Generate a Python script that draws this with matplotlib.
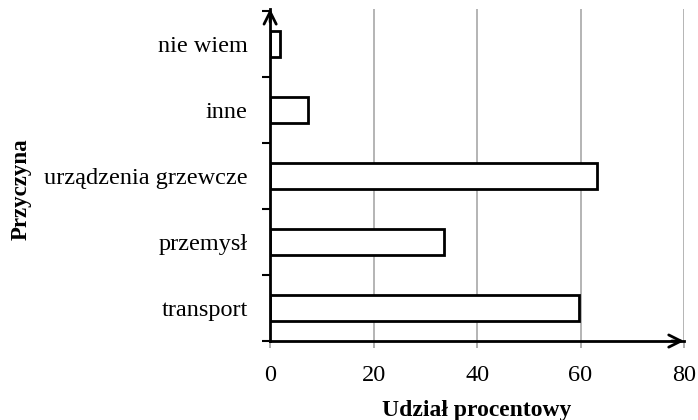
import matplotlib.pyplot as plt
import numpy as np

# dane
przyczyny = ['transport', 'przemysł', 'urządzenia grzewcze', 'inne', 'nie wiem']
udzial = [59.7, 33.7, 63.2, 7.3, 2.0]
x_ticks = [0, 20, 40, 60, 80]

plt.rcParams['font.family'] = ['Liberation Serif', 'DejaVu Serif']
plt.rcParams['font.size'] = 17.5

fig = plt.figure(figsize=(6.98, 4.2), dpi=100)
ax = fig.add_axes([0.387, 0.188, 0.593, 0.791])

y = np.arange(len(przyczyny))
ax.barh(y, udzial, height=0.4, color='white', edgecolor='black',
        linewidth=2, zorder=3)

ax.set_xlim(0, 80)
ax.set_ylim(-0.5, 4.53)
ax.set_xticks(x_ticks)
ax.set_xticklabels([str(v) for v in x_ticks])
ax.set_yticks(y)
ax.set_yticklabels(przyczyny)
ax.set_yticks(np.arange(-0.5, 4.6, 1), minor=True)

# siatka pionowa
ax.grid(axis='x', color='#a0a0a0', linewidth=1.1, zorder=0)
ax.set_axisbelow(True)

# osie
for s in ['top', 'right']:
    ax.spines[s].set_visible(False)
for s in ['left', 'bottom']:
    ax.spines[s].set_linewidth(2)
    ax.spines[s].set_zorder(4)

ax.tick_params(axis='y', which='major', length=0, pad=16)
ax.tick_params(axis='y', which='minor', length=6, width=1.5, direction='out')
ax.tick_params(axis='x', which='major', length=5, width=1.2, direction='out',
               color='#a0a0a0', pad=12)

# strzałki na końcach osi
ax.annotate('', xy=(1.0, 0), xytext=(0.97, 0), xycoords='axes fraction',
            arrowprops=dict(arrowstyle='->', lw=2, color='black',
                            mutation_scale=22, shrinkA=0, shrinkB=0))
ax.annotate('', xy=(0, 1.0), xytext=(0, 0.96), xycoords='axes fraction',
            arrowprops=dict(arrowstyle='->', lw=2, color='black',
                            mutation_scale=22, shrinkA=0, shrinkB=0))

ax.set_xlabel('Udział procentowy', fontweight='bold', fontsize=17, labelpad=10)
fig.text(0.031, 0.55, 'Przyczyna', rotation=90, fontweight='bold',
         ha='center', va='center', fontsize=16.5)

fig.savefig('out.png', dpi=100)
